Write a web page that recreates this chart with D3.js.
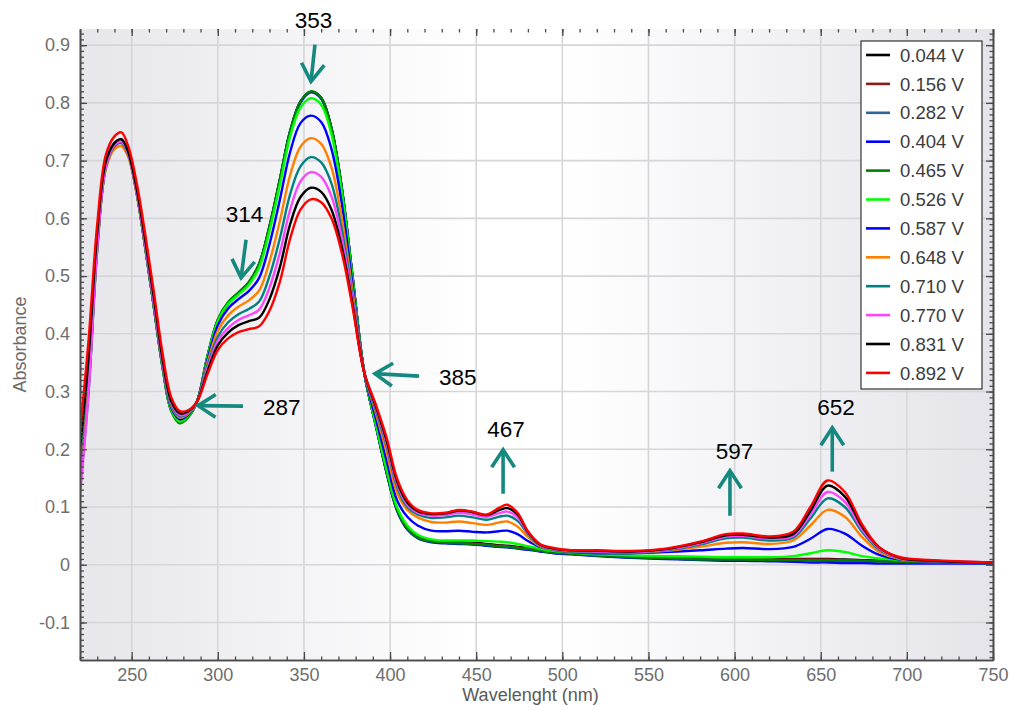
<!DOCTYPE html>
<html><head><meta charset="utf-8">
<script src="https://cdn.jsdelivr.net/npm/d3@7"></script>
<style>
body{margin:0;background:#fff;}
svg{display:block;font-family:"Liberation Sans",Arial,Helvetica,sans-serif;}
</style>
</head><body>
<svg id="chart" width="1009" height="710"></svg>
<script>
// ---------- DATA ----------
const wavelengths = [220,225,230,235,240,244,248,253,258,263,268,273,278,283,288,294,300,306,312,318,324,330,336,342,348,354,360,366,372,378,385,392,398,404,410,416,424,432,440,448,456,463,468,474,480,487,495,505,520,540,560,580,595,605,620,634,644,654,664,674,684,696,715,750];

const a044 = [0.19,0.34,0.565,0.695,0.731, 0.736,0.714,0.645,0.549,0.446, 0.343,0.269,0.249,0.259,0.283, 0.359,0.422,0.452,0.469,0.487, 0.519,0.584,0.665,0.749,0.801, 0.819,0.809,0.756,0.652,0.505, 0.333,0.239,0.161,0.097,0.064, 0.049,0.042,0.04,0.039,0.038, 0.036,0.034,0.033,0.031,0.029, 0.026,0.023,0.021,0.018,0.015, 0.013,0.011,0.011,0.011,0.01, 0.01,0.01,0.01,0.009,0.008, 0.007,0.006,0.005,0.004];
const a156 = [0.18,0.33,0.56,0.693,0.73, 0.735,0.713,0.644,0.548,0.445, 0.342,0.268,0.248,0.258,0.283, 0.36,0.423,0.453,0.47,0.488, 0.52,0.585,0.666,0.75,0.802, 0.819,0.808,0.755,0.651,0.504, 0.333,0.238,0.16,0.096,0.063, 0.048,0.041,0.039,0.038,0.037, 0.035,0.033,0.032,0.03,0.028, 0.025,0.022,0.02,0.017,0.014, 0.012,0.01,0.01,0.01,0.009, 0.009,0.009,0.009,0.008,0.007, 0.006,0.005,0.004,0.003];
const a282 = [0.18,0.33,0.56,0.692,0.73, 0.735,0.713,0.644,0.548,0.445, 0.342,0.268,0.248,0.258,0.283, 0.36,0.423,0.453,0.47,0.488, 0.52,0.585,0.666,0.75,0.801, 0.818,0.807,0.754,0.65,0.503, 0.333,0.238,0.16,0.095,0.062, 0.047,0.04,0.038,0.037,0.036, 0.034,0.032,0.031,0.029,0.027, 0.024,0.021,0.019,0.016,0.013, 0.011,0.009,0.009,0.009,0.008, 0.008,0.008,0.007,0.007,0.006, 0.006,0.005,0.004,0.003];
const a404 = [0.17,0.32,0.555,0.69,0.729, 0.734,0.712,0.643,0.547,0.444, 0.341,0.267,0.247,0.257,0.283, 0.361,0.424,0.454,0.471,0.489, 0.521,0.586,0.667,0.751,0.802, 0.819,0.808,0.755,0.651,0.504, 0.333,0.237,0.159,0.094,0.061, 0.046,0.039,0.037,0.036,0.035, 0.033,0.031,0.03,0.028,0.026, 0.023,0.02,0.018,0.015,0.012, 0.01,0.008,0.007,0.007,0.006, 0.005,0.004,0.004,0.003,0.003, 0.002,0.002,0.002,0.002];
const a465 = [0.16,0.31,0.55,0.69,0.728, 0.734,0.712,0.642,0.546,0.443, 0.34,0.266,0.245,0.256,0.283, 0.362,0.425,0.455,0.472,0.49, 0.522,0.587,0.668,0.752,0.803, 0.82,0.809,0.756,0.652,0.505, 0.333,0.238,0.16,0.095,0.062, 0.047,0.04,0.038,0.037,0.036, 0.034,0.032,0.031,0.029,0.027, 0.024,0.021,0.019,0.016,0.013, 0.011,0.009,0.009,0.009,0.008, 0.008,0.008,0.008,0.007,0.007, 0.006,0.005,0.004,0.003];
const a526 = [0.17,0.32,0.555,0.69,0.727, 0.733,0.711,0.642,0.547,0.444, 0.341,0.268,0.248,0.258,0.283, 0.36,0.422,0.452,0.468,0.485, 0.515,0.578,0.658,0.742,0.792, 0.808,0.797,0.745,0.645,0.5, 0.333,0.24,0.165,0.1,0.068, 0.052,0.044,0.042,0.042,0.042, 0.041,0.04,0.039,0.036,0.032, 0.028,0.024,0.021,0.018,0.016, 0.015,0.014,0.013,0.013,0.013, 0.015,0.02,0.025,0.022,0.015, 0.011,0.008,0.005,0.003];
const a587 = [0.15,0.31,0.55,0.688,0.725, 0.731,0.71,0.642,0.548,0.446, 0.344,0.272,0.252,0.26,0.283, 0.355,0.415,0.444,0.46,0.474, 0.497,0.555,0.632,0.715,0.765, 0.778,0.767,0.72,0.625,0.49, 0.333,0.25,0.18,0.112,0.083, 0.068,0.059,0.058,0.059,0.057, 0.056,0.058,0.059,0.053,0.041, 0.031,0.026,0.022,0.02,0.02, 0.022,0.025,0.028,0.029,0.027, 0.031,0.045,0.062,0.054,0.033, 0.017,0.009,0.005,0.003];
const a648 = [0.14,0.31,0.545,0.685,0.72, 0.725,0.706,0.64,0.548,0.447, 0.345,0.275,0.255,0.262,0.283, 0.35,0.405,0.432,0.447,0.458, 0.475,0.525,0.595,0.675,0.724, 0.739,0.729,0.688,0.6,0.478, 0.333,0.26,0.195,0.125,0.095, 0.082,0.074,0.073,0.075,0.072, 0.069,0.073,0.075,0.066,0.048, 0.032,0.026,0.023,0.022,0.021, 0.024,0.031,0.038,0.039,0.036, 0.042,0.068,0.095,0.083,0.048, 0.022,0.01,0.006,0.004];
const a710 = [0.13,0.3,0.545,0.688,0.725, 0.731,0.71,0.643,0.55,0.449, 0.347,0.277,0.257,0.263,0.283, 0.345,0.395,0.42,0.434,0.443, 0.456,0.5,0.565,0.642,0.69, 0.706,0.697,0.66,0.58,0.468, 0.333,0.265,0.205,0.135,0.1, 0.087,0.081,0.082,0.085,0.082, 0.078,0.083,0.085,0.076,0.053, 0.033,0.026,0.023,0.022,0.021, 0.025,0.035,0.046,0.047,0.042, 0.047,0.08,0.115,0.1,0.057, 0.026,0.011,0.006,0.004];
const a770 = [0.12,0.3,0.55,0.69,0.727, 0.733,0.712,0.645,0.553,0.452, 0.35,0.28,0.259,0.264,0.283, 0.34,0.388,0.41,0.424,0.432, 0.442,0.48,0.54,0.615,0.664, 0.68,0.672,0.638,0.565,0.462, 0.333,0.27,0.21,0.14,0.104, 0.09,0.085,0.086,0.09,0.087, 0.083,0.089,0.092,0.082,0.055, 0.034,0.027,0.024,0.023,0.022, 0.026,0.037,0.049,0.05,0.045, 0.05,0.087,0.126,0.109,0.061, 0.028,0.011,0.007,0.004];
const a831 = [0.2,0.36,0.575,0.698,0.73, 0.737,0.715,0.65,0.56,0.46, 0.355,0.283,0.262,0.266,0.283, 0.335,0.38,0.402,0.415,0.422, 0.428,0.46,0.515,0.59,0.637, 0.653,0.646,0.615,0.55,0.455, 0.333,0.272,0.215,0.145,0.108, 0.093,0.088,0.089,0.094,0.091, 0.086,0.094,0.098,0.087,0.057, 0.035,0.028,0.025,0.024,0.023, 0.027,0.039,0.051,0.052,0.047, 0.053,0.093,0.137,0.118,0.066, 0.03,0.012,0.007,0.004];
const a892 = [0.23,0.39,0.59,0.71,0.742, 0.749,0.725,0.66,0.57,0.47, 0.365,0.29,0.266,0.268,0.283, 0.33,0.372,0.392,0.403,0.408, 0.413,0.44,0.49,0.565,0.615, 0.633,0.628,0.6,0.54,0.45, 0.333,0.275,0.22,0.15,0.112, 0.095,0.089,0.09,0.095,0.092, 0.087,0.098,0.104,0.09,0.058, 0.036,0.029,0.025,0.025,0.024, 0.028,0.04,0.053,0.054,0.049, 0.057,0.1,0.146,0.126,0.07, 0.03,0.013,0.008,0.004];

const seriesValues = [a044,a156,a282,a404,a465,a526,a587,a648,a710,a770,a831,a892];
const potentials = ["0.044 V","0.156 V","0.282 V","0.404 V","0.465 V","0.526 V","0.587 V","0.648 V","0.710 V","0.770 V","0.831 V","0.892 V"];
const seriesColors = ["#000000","#8b1a1a","#2f6698","#0000ff","#008000","#00ff00","#0000ff","#ff8000","#008080","#ff44ff","#000000","#ff0000"];

const xMajorTicks = [250,300,350,400,450,500,550,600,650,700,750];
const yMajorTicks = [-0.1,0,0.1,0.2,0.3,0.4,0.5,0.6,0.7,0.8,0.9];
const yTickLabels = ["-0.1","0","0.1","0.2","0.3","0.4","0.5","0.6","0.7","0.8","0.9"];

// annotations: label, text position (nm, absorbance), anchor, arrow tail, arrow tip
const annLabels = ["353","314","287","385","467","597","652"];
const annTextPos = [[355.5,0.929],[315.5,0.593],[326.2,0.26],[428.4,0.312],[467.3,0.222],[599.9,0.184],[658.9,0.26]];
const annAnchor = ["middle","middle","start","start","middle","middle","middle"];
const annTail = [[356.4,0.901],[316.4,0.563],[314.6,0.2747],[416.8,0.3267],[465.6,0.123],[597.3,0.0849],[656.7,0.1612]];
const annTip  = [[354.1,0.837],[313.5,0.497],[288.5,0.2756],[391.2,0.331],[465.6,0.1993],[597.3,0.1629],[656.7,0.2374]];

// ---------- CHART ----------
const svg = d3.select("#chart");
const L = 80, R = 993, T = 29, B = 660;
const x = d3.scaleLinear().domain([220,750]).range([L,R]);
const y = d3.scaleLinear().domain([-0.165,0.928]).range([B,T]);

const defs = svg.append("defs");
const grad = defs.append("linearGradient").attr("id","bg").attr("x1","0%").attr("x2","100%").attr("y1","0%").attr("y2","0%");
grad.append("stop").attr("offset","0%").attr("stop-color","#e6e6eb");
grad.append("stop").attr("offset","43%").attr("stop-color","#ffffff");
grad.append("stop").attr("offset","53%").attr("stop-color","#ffffff");
grad.append("stop").attr("offset","100%").attr("stop-color","#e4e4ea");
defs.append("clipPath").attr("id","clip").append("rect")
  .attr("x",L).attr("y",T).attr("width",R-L).attr("height",B-T);

svg.append("rect").attr("x",L).attr("y",T).attr("width",R-L).attr("height",B-T).attr("fill","url(#bg)");

// grid
const grid = svg.append("g");
grid.selectAll(".gx").data(xMajorTicks.filter(d=>d<750)).join("line")
  .attr("x1",d=>x(d)).attr("x2",d=>x(d)).attr("y1",T).attr("y2",B)
  .attr("stroke","#d6d6d8").attr("stroke-width",1.6);
grid.selectAll(".gy").data(yMajorTicks).join("line")
  .attr("x1",L).attr("x2",R).attr("y1",d=>y(d)).attr("y2",d=>y(d))
  .attr("stroke","#d6d6d8").attr("stroke-width",1.6);

// curves
const line = d3.line().x(d=>x(d[0])).y(d=>y(d[1])).curve(d3.curveCatmullRom.alpha(0.5));
const curves = svg.append("g").attr("clip-path","url(#clip)");
seriesValues.forEach((vals,i)=>{
  curves.append("path")
    .datum(wavelengths.map((w,j)=>[w,vals[j]]))
    .attr("d",line).attr("fill","none")
    .attr("stroke",seriesColors[i]).attr("stroke-width",2.4)
    .attr("stroke-linejoin","round");
});

// axes
const axisColor = "#4a4a4a";
const xMinor = d3.range(220,751,10);
const yMinor = d3.range(-16,93,1).map(d=>d/100);
function styleAxis(g){
  g.selectAll("path.domain").attr("stroke",axisColor).attr("stroke-width",1.6);
  g.selectAll(".tick line").attr("stroke",axisColor).attr("stroke-width",1.3);
  g.selectAll(".tick text").attr("fill","#6e6e6e").style("font-size","18px")
    .style("font-family","'Liberation Sans',Arial,sans-serif");
}
// bottom
svg.append("g").attr("transform",`translate(0,${B})`)
  .call(d3.axisBottom(x).tickValues(xMinor).tickSize(-3.5).tickSizeOuter(0).tickFormat(""))
  .call(styleAxis);
svg.append("g").attr("transform",`translate(0,${B})`)
  .call(d3.axisBottom(x).tickValues(xMajorTicks).tickSize(-8).tickSizeOuter(0).tickPadding(8).tickFormat(d=>String(d)))
  .call(styleAxis);
// top (ticks only)
const gt1 = svg.append("g").attr("transform",`translate(0,${T})`)
  .call(d3.axisTop(x).tickValues(xMinor).tickSize(-3.5).tickSizeOuter(0).tickFormat(""));
const gt2 = svg.append("g").attr("transform",`translate(0,${T})`)
  .call(d3.axisTop(x).tickValues(xMajorTicks).tickSize(-7).tickSizeOuter(0).tickFormat(""));
[gt1,gt2].forEach(g=>{styleAxis(g); g.select("path.domain").remove();});
// left
svg.append("g").attr("transform",`translate(${L},0)`)
  .call(d3.axisLeft(y).tickValues(yMinor).tickSize(-4).tickSizeOuter(0).tickFormat(""))
  .call(styleAxis);
svg.append("g").attr("transform",`translate(${L},0)`)
  .call(d3.axisLeft(y).tickValues(yMajorTicks).tickSize(-7).tickSizeOuter(0).tickPadding(10)
    .tickFormat((d,i)=>yTickLabels[i]))
  .call(styleAxis);
// right
svg.append("g").attr("transform",`translate(${R},0)`)
  .call(d3.axisRight(y).tickValues(yMinor).tickSize(-3.5).tickSizeOuter(0).tickFormat(""))
  .call(styleAxis);
svg.append("g").attr("transform",`translate(${R},0)`)
  .call(d3.axisRight(y).tickValues(yMajorTicks).tickSize(-7).tickSizeOuter(0).tickFormat(""))
  .call(styleAxis);

// axis titles
svg.append("text").attr("x",(L+R)/2-6).attr("y",701).attr("text-anchor","middle")
  .attr("fill","#5a5a5a").style("font-size","18px").text("Wavelenght (nm)");
svg.append("text").attr("transform",`translate(26,${(T+B)/2}) rotate(-90)`).attr("text-anchor","middle")
  .attr("fill","#6a6a6a").style("font-size","18px").text("Absorbance");

// legend
const lg = svg.append("g");
lg.append("rect").attr("x",861).attr("y",41).attr("width",121).attr("height",348)
  .attr("fill","#ffffff").attr("stroke","#333").attr("stroke-width",1.2);
potentials.forEach((p,i)=>{
  const yy = 55 + i*28.9;
  lg.append("line").attr("x1",866).attr("x2",890).attr("y1",yy).attr("y2",yy)
    .attr("stroke",seriesColors[i]).attr("stroke-width",2.6);
  lg.append("text").attr("x",900).attr("y",yy).attr("dy","0.36em")
    .attr("fill","#3c3c3c").style("font-size","18.5px").text(p);
});

// annotations
const arrowColor = "#16897f";
const ann = svg.append("g");
annLabels.forEach((lab,i)=>{
  ann.append("text").attr("x",x(annTextPos[i][0])).attr("y",y(annTextPos[i][1]))
    .attr("text-anchor",annAnchor[i]).attr("fill","#000").style("font-size","22.5px").text(lab);
  const tx = x(annTail[i][0]), ty = y(annTail[i][1]);
  const px = x(annTip[i][0]), py = y(annTip[i][1]);
  const ang = Math.atan2(ty-py, tx-px);
  const hl = 21, ha = 33*Math.PI/180;
  const w1 = [px+hl*Math.cos(ang+ha), py+hl*Math.sin(ang+ha)];
  const w2 = [px+hl*Math.cos(ang-ha), py+hl*Math.sin(ang-ha)];
  ann.append("line").attr("x1",tx).attr("y1",ty).attr("x2",px).attr("y2",py)
    .attr("stroke",arrowColor).attr("stroke-width",3.6);
  ann.append("path").attr("d",`M${w1[0]},${w1[1]}L${px},${py}L${w2[0]},${w2[1]}`)
    .attr("fill","none").attr("stroke",arrowColor).attr("stroke-width",3.6)
    .attr("stroke-linejoin","miter");
});
</script>
</body></html>
